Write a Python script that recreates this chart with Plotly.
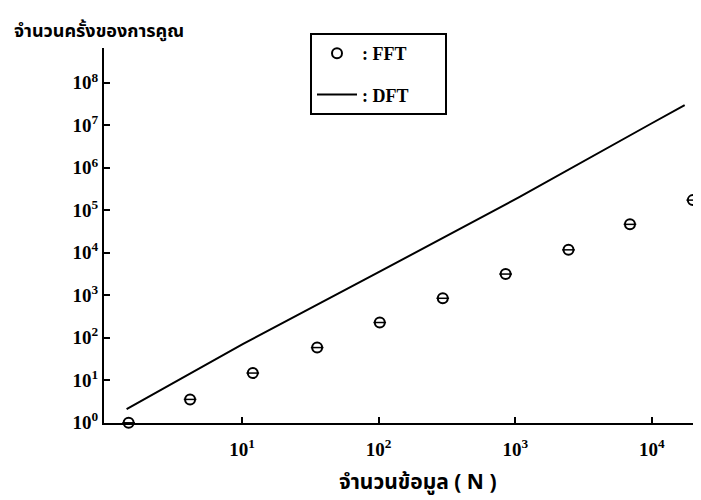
import plotly.graph_objects as go

# FFT data
fft_n = [1.48, 4.17, 12.0, 35.5, 102, 295, 851, 2455, 6918, 19950]
fft_mult = [1.0, 3.55, 14.8, 58.9, 229, 851, 3162, 11750, 46770, 173800]

# DFT data
dft_n = [1.43, 10.2, 105, 1070, 10000, 17400]
dft_mult = [2.1, 72, 3800, 204000, 11200000, 30000000]

x_tickvals = [10, 100, 1000, 10000]
x_ticktext = ["10<sup>1</sup>", "10<sup>2</sup>", "10<sup>3</sup>", "10<sup>4</sup>"]
y_tickvals = [1, 10, 100, 1e3, 1e4, 1e5, 1e6, 1e7, 1e8]
y_ticktext = ["10<sup>%d</sup>" % i for i in range(9)]

y_title = "จำนวนครั้งของการคูณ"
x_title = "จำนวนข้อมูล ( N )"
pad = "\u00a0" * 7

thai_font = "Noto Sans Thai, Noto Sans, DejaVu Sans, sans-serif"
serif = "Liberation Serif, DejaVu Serif, serif"

fig = go.Figure()
fig.add_trace(go.Scatter(
    x=fft_n, y=fft_mult, mode="markers", name=": FFT" + pad,
    marker=dict(symbol="circle-open", size=10, color="black", line=dict(width=2, color="black")),
    cliponaxis=False, legendgroup="a"))
fig.add_trace(go.Scatter(
    x=fft_n, y=fft_mult, mode="markers", showlegend=False,
    marker=dict(symbol="line-ew-open", size=9, color="black", line=dict(width=1.5, color="black")),
    cliponaxis=False, legendgroup="a"))
fig.add_trace(go.Scatter(
    x=dft_n, y=dft_mult, mode="lines", name=": DFT" + pad,
    line=dict(color="black", width=2), legendgroup="b"))

# page body has an 8px margin, so the figure is 8px smaller and margins shifted
fig.update_layout(
    width=693, height=492,
    margin=dict(l=96, r=0, t=40, b=77, autoexpand=False),
    paper_bgcolor="white", plot_bgcolor="white",
    showlegend=True,
    legend=dict(x=(310 - 104) / 597, y=(423 - 33) / 375, xanchor="left", yanchor="top",
                bordercolor="black", borderwidth=2, bgcolor="white",
                font=dict(family=serif, size=18, color="black", weight="bold"),
                tracegroupgap=15, itemwidth=40),
    xaxis=dict(type="log", range=[-0.01, 4.36], showline=True, linecolor="black", linewidth=2,
               ticks="inside", ticklen=6, tickwidth=1.5, tickcolor="black",
               tickmode="array", tickvals=x_tickvals, ticktext=x_ticktext,
               tickfont=dict(family=serif, size=19, color="black", weight="bold"),
               ticklabelstandoff=8,
               showgrid=False, zeroline=False),
    yaxis=dict(type="log", range=[-0.005, 8.82], showline=True, linecolor="black", linewidth=2,
               ticks="inside", ticklen=6, tickwidth=1.5, tickcolor="black",
               tickmode="array", tickvals=y_tickvals, ticktext=y_ticktext,
               tickfont=dict(family=serif, size=19, color="black", weight="bold"),
               showgrid=False, zeroline=False),
    annotations=[
        dict(text="<b>" + y_title + "</b>", xref="paper", yref="paper",
             x=(12 - 104) / 597, y=(423 - 31) / 375, xanchor="left", yanchor="middle",
             showarrow=False, font=dict(family=thai_font, size=18, color="black")),
        dict(text="<b>" + x_title + "</b>", xref="paper", yref="paper",
             x=(418 - 104) / 597, y=(423 - 482) / 375, xanchor="center", yanchor="middle",
             showarrow=False, font=dict(family=thai_font, size=21, color="black")),
    ],
)

fig.write_html("out.html")
